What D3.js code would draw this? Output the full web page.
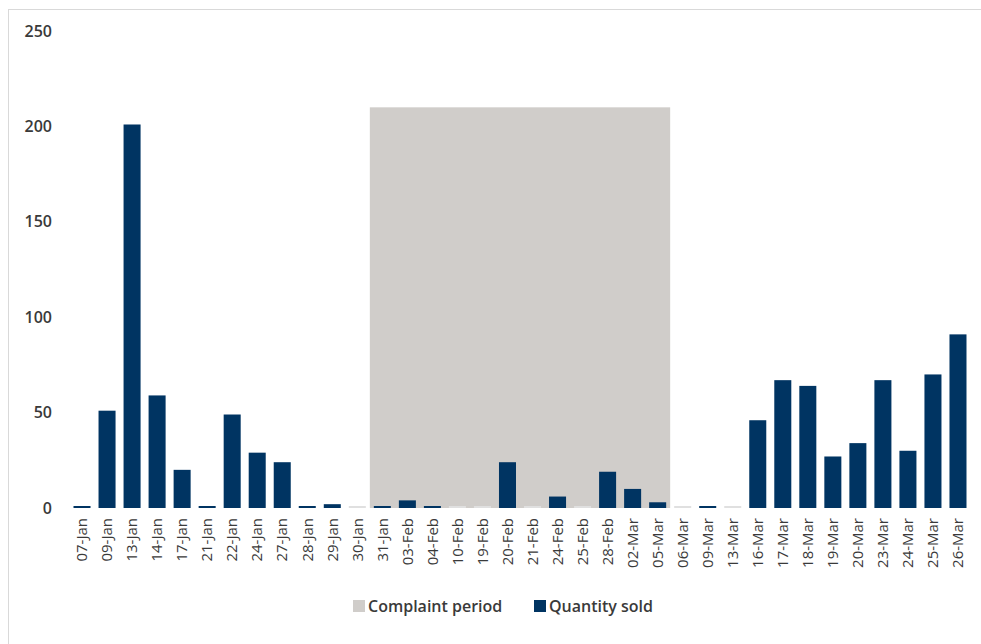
<!DOCTYPE html>
<html>
<head>
<meta charset="utf-8">
<script src="https://cdn.jsdelivr.net/npm/d3@7"></script>
<style>
  body { margin: 0; background: #fff; }
  text { font-family: "Open Sans", "DejaVu Sans", sans-serif; }
</style>
</head>
<body>
<svg width="981" height="644"></svg>
<script>
const dates = ["07-Jan", "09-Jan", "13-Jan", "14-Jan", "17-Jan", "21-Jan", "22-Jan", "24-Jan", "27-Jan", "28-Jan", "29-Jan", "30-Jan",
  "31-Jan", "03-Feb", "04-Feb", "10-Feb", "19-Feb", "20-Feb", "21-Feb", "24-Feb", "25-Feb", "28-Feb", "02-Mar", "05-Mar",
  "06-Mar", "09-Mar", "13-Mar", "16-Mar", "17-Mar", "18-Mar", "19-Mar", "20-Mar", "23-Mar", "24-Mar", "25-Mar", "26-Mar"];
const quantitySold = [1, 51, 201, 59, 20, 1, 49, 29, 24, 1, 2, 0,
  1, 4, 1, 0, 0, 24, 0, 6, 0, 19, 10, 3,
  0, 1, 0, 46, 67, 64, 27, 34, 67, 30, 70, 91];
const complaintDates = ["31-Jan", "03-Feb", "04-Feb", "10-Feb", "19-Feb", "20-Feb", "21-Feb", "24-Feb", "25-Feb", "28-Feb", "02-Mar", "05-Mar"];
const complaintValue = 210;
const yTicks = [0, 50, 100, 150, 200, 250];
const legendLabels = ["Complaint period", "Quantity sold"];

var svg = d3.select("svg");

var navy = "#003462",
  grey = "#d0cdca",
  textColor = "#3a3a3a";

// frame
svg.append("rect")
  .attr("x", 8.5).attr("y", 9.5)
  .attr("width", 990).attr("height", 660)
  .attr("fill", "none")
  .attr("stroke", "#d9d9d9");

var x = d3.scaleBand()
  .domain(dates)
  .range([69.5, 970.5])
  .paddingInner(0.32)
  .paddingOuter(0.16);

var xFull = d3.scaleBand()
  .domain(dates)
  .range([69.5, 970.5]);

var y = d3.scaleLinear()
  .domain([0, 250])
  .range([508, 31]);

// complaint period band (one block, categories back to back)
var first = complaintDates[0],
  last = complaintDates[complaintDates.length - 1];
svg.append("rect")
  .attr("x", xFull(first))
  .attr("width", xFull(last) + xFull.bandwidth() - xFull(first))
  .attr("y", y(complaintValue))
  .attr("height", y(0) - y(complaintValue))
  .attr("fill", grey);

// quantity bars
svg.append("g")
  .selectAll("rect")
  .data(dates.map((d, i) => ({ date: d, value: quantitySold[i] })))
  .enter()
  .append("rect")
  .attr("x", d => x(d.date))
  .attr("width", x.bandwidth())
  .attr("y", d => d.value === 0 ? y(0) - 2 : Math.min(y(d.value), y(0) - 2))
  .attr("height", d => d.value === 0 ? 2 : Math.max(y(0) - y(d.value), 2))
  .attr("fill", d => d.value === 0 ? "#e0e0e0" : navy);

// y axis labels
svg.append("g")
  .selectAll("text")
  .data(yTicks)
  .enter()
  .append("text")
  .attr("x", 52)
  .attr("y", d => y(d))
  .attr("dy", "0.35em")
  .attr("text-anchor", "end")
  .attr("font-size", 16)
  .attr("font-weight", "600")
  .attr("fill", textColor)
  .text(d => d);

// x labels
svg.append("g")
  .selectAll("text")
  .data(dates)
  .enter()
  .append("text")
  .attr("transform", d => `translate(${xFull(d) + xFull.bandwidth() / 2},518) rotate(-90)`)
  .attr("dy", "0.35em")
  .attr("text-anchor", "end")
  .attr("font-size", 15)
  .attr("fill", textColor)
  .text(d => d);

// legend
var legend = svg.append("g").attr("transform", "translate(353,606)");
var legendX = [0, 181];
var legendColors = [grey, navy];

legend.selectAll("rect")
  .data(legendLabels)
  .enter()
  .append("rect")
  .attr("x", (d, i) => legendX[i])
  .attr("y", -6)
  .attr("width", 12)
  .attr("height", 12)
  .attr("fill", (d, i) => legendColors[i]);

legend.selectAll("text")
  .data(legendLabels)
  .enter()
  .append("text")
  .attr("x", (d, i) => legendX[i] + 15)
  .attr("y", 0)
  .attr("dy", "0.35em")
  .attr("font-size", 16)
  .attr("font-weight", "600")
  .attr("fill", textColor)
  .text(d => d);
</script>
</body>
</html>
